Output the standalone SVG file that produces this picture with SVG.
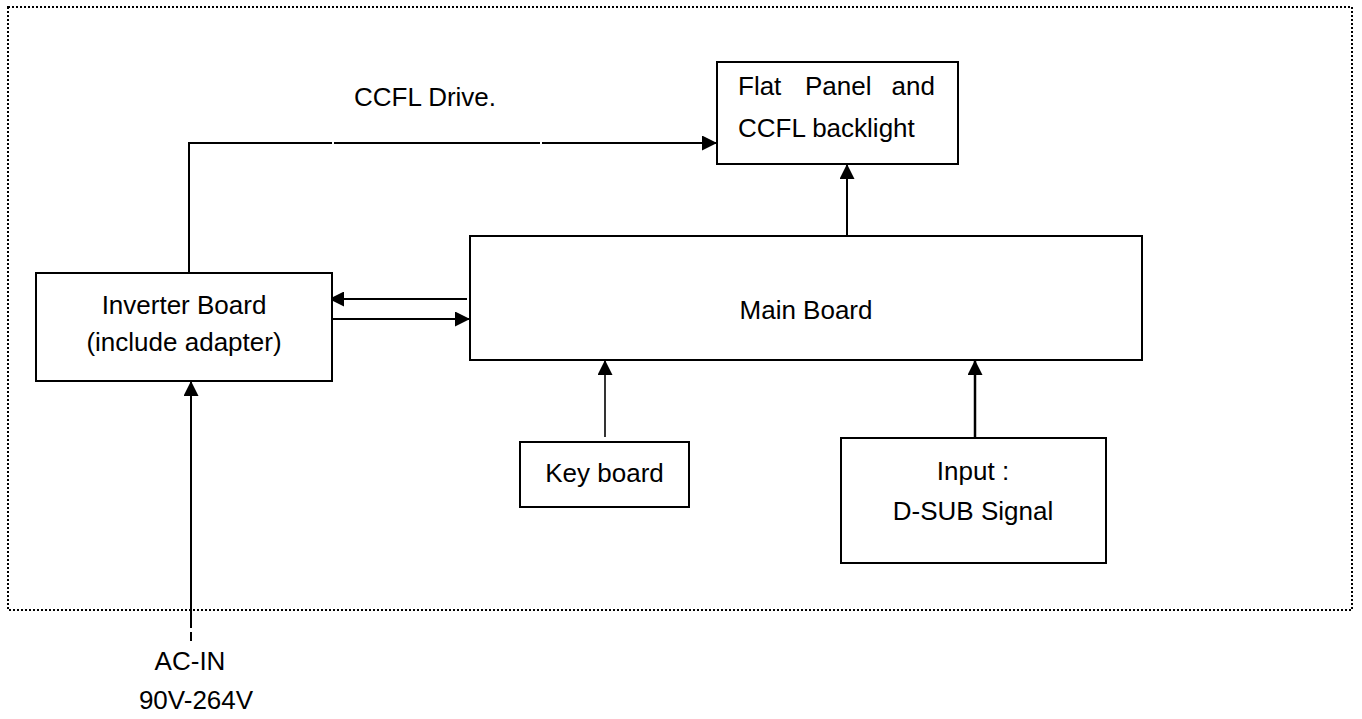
<svg xmlns="http://www.w3.org/2000/svg" width="1362" height="719" viewBox="0 0 1362 719">
<style>
text{font-family:"Liberation Sans",Arial,sans-serif;font-size:26px;fill:#000}
.box{fill:#fff;stroke:#000;stroke-width:2}
.ln{fill:none;stroke:#000;stroke-width:2}
.c{text-anchor:middle}
</style>
<defs>
<marker id="ah" markerUnits="userSpaceOnUse" markerWidth="15" markerHeight="15" refX="15" refY="7.5" orient="auto">
<path d="M0,0 L15,7.5 L0,15 Z" fill="#000"/>
</marker>
</defs>
<rect width="1362" height="719" fill="#fff"/>
<rect id="frame" x="8" y="7" width="1344" height="603" fill="none" stroke="#000" stroke-width="2" stroke-dasharray="2 2"/>
<g id="connectors">
<path class="ln" d="M189,273 V143 H332"/>
<path class="ln" d="M334,143 H540"/>
<path class="ln" d="M542,143 H717" marker-end="url(#ah)"/>
<path class="ln" d="M847,236 V164" marker-end="url(#ah)"/>
<path class="ln" d="M467,299 H329" marker-end="url(#ah)"/>
<path class="ln" d="M332,319 H470" marker-end="url(#ah)"/>
<path class="ln" style="stroke-width:1.6" d="M605,437 V360" marker-end="url(#ah)"/>
<path class="ln" style="stroke-width:2.5" d="M975,438 V360" marker-end="url(#ah)"/>
<path class="ln" d="M191,628 V381" marker-end="url(#ah)"/>
<path class="ln" d="M191,632 V641"/>
</g>
<g id="flat-panel">
<rect class="box" x="717" y="62" width="241" height="102"/>
<text x="738" y="95">Flat</text>
<text x="805" y="95">Panel</text>
<text x="935" y="95" text-anchor="end">and</text>
<text x="738" y="137">CCFL backlight</text>
</g>
<g id="ccfl-label">
<text x="354" y="106">CCFL Drive.</text>
</g>
<g id="inverter">
<rect class="box" x="36" y="273" width="296" height="108"/>
<text class="c" x="184" y="314">Inverter Board</text>
<text class="c" x="184" y="351">(include adapter)</text>
</g>
<g id="main-board">
<rect class="box" x="470" y="236" width="672" height="124"/>
<text class="c" x="806" y="319">Main Board</text>
</g>
<g id="key-board">
<rect class="box" x="520" y="442" width="169" height="65"/>
<text class="c" x="604.5" y="482">Key board</text>
</g>
<g id="input">
<rect class="box" x="841" y="438" width="265" height="125"/>
<text class="c" x="973" y="480">Input :</text>
<text class="c" x="973" y="520">D-SUB Signal</text>
</g>
<g id="ac-in">
<text class="c" x="190" y="670">AC-IN</text>
<text class="c" x="196" y="709">90V-264V</text>
</g>
</svg>
